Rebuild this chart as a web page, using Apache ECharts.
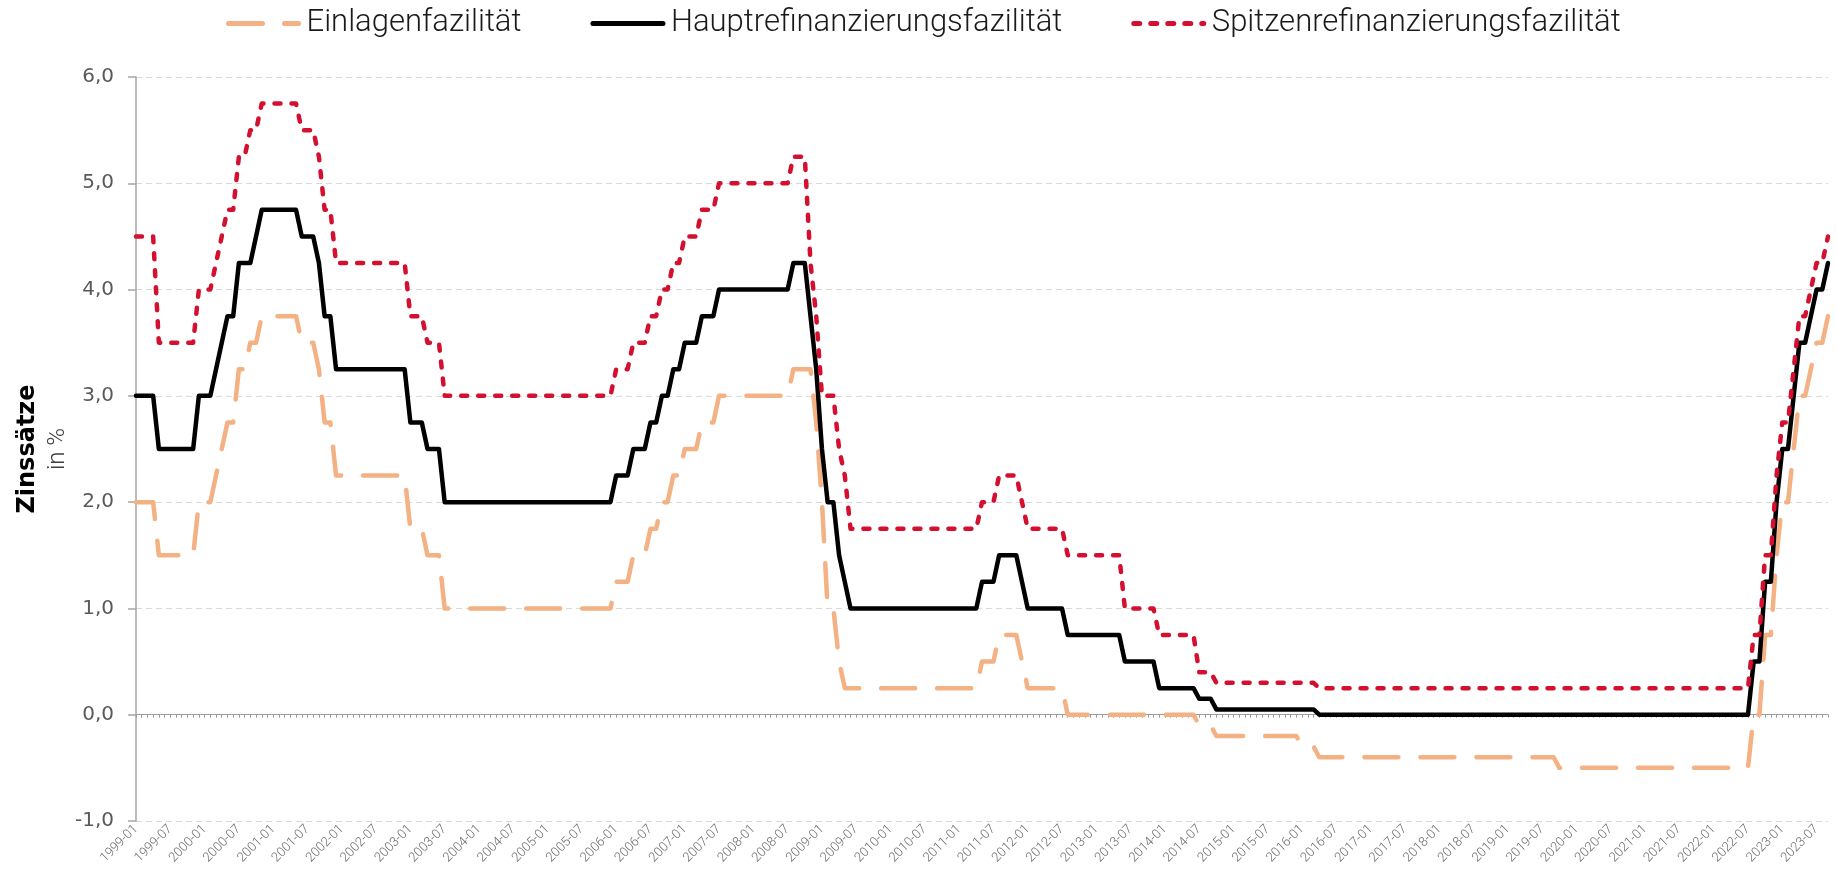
<!DOCTYPE html>
<html>
<head>
<meta charset="utf-8">
<script src="https://cdn.jsdelivr.net/npm/echarts@6/dist/echarts.min.js"></script>
<style>
html,body{margin:0;padding:0;background:#fff;}
#chart{width:1836px;height:869px;}
</style>
</head>
<body>
<div id="chart"></div>
<script>
// Monthly categories 1999-01 .. 2023-09 (value in effect at the start of each month)
const months = [];
for (let y = 1999; y <= 2023; y++) {
  for (let m = 1; m <= 12; m++) {
    if (y === 2023 && m > 9) break;
    months.push(y + '-' + (m < 10 ? '0' + m : m));
  }
}

// Einlagenfazilität (deposit facility), one row per year
const einlagen = [
  2.00,2.00,2.00,2.00,1.50,1.50,1.50,1.50,1.50,1.50,1.50,2.00, // 1999
  2.00,2.00,2.25,2.50,2.75,2.75,3.25,3.25,3.50,3.50,3.75,3.75, // 2000
  3.75,3.75,3.75,3.75,3.75,3.50,3.50,3.50,3.25,2.75,2.75,2.25, // 2001
  2.25,2.25,2.25,2.25,2.25,2.25,2.25,2.25,2.25,2.25,2.25,2.25, // 2002
  1.75,1.75,1.75,1.50,1.50,1.50,1.00,1.00,1.00,1.00,1.00,1.00, // 2003
  1.00,1.00,1.00,1.00,1.00,1.00,1.00,1.00,1.00,1.00,1.00,1.00, // 2004
  1.00,1.00,1.00,1.00,1.00,1.00,1.00,1.00,1.00,1.00,1.00,1.00, // 2005
  1.25,1.25,1.25,1.50,1.50,1.50,1.75,1.75,2.00,2.00,2.25,2.25, // 2006
  2.50,2.50,2.50,2.75,2.75,2.75,3.00,3.00,3.00,3.00,3.00,3.00, // 2007
  3.00,3.00,3.00,3.00,3.00,3.00,3.00,3.25,3.25,3.25,3.25,2.75, // 2008
  2.00,1.00,1.00,0.50,0.25,0.25,0.25,0.25,0.25,0.25,0.25,0.25, // 2009
  0.25,0.25,0.25,0.25,0.25,0.25,0.25,0.25,0.25,0.25,0.25,0.25, // 2010
  0.25,0.25,0.25,0.25,0.50,0.50,0.50,0.75,0.75,0.75,0.75,0.50, // 2011
  0.25,0.25,0.25,0.25,0.25,0.25,0.25,0.00,0.00,0.00,0.00,0.00, // 2012
  0.00,0.00,0.00,0.00,0.00,0.00,0.00,0.00,0.00,0.00,0.00,0.00, // 2013
  0.00,0.00,0.00,0.00,0.00,0.00,-0.10,-0.10,-0.10,-0.20,-0.20,-0.20, // 2014
  -0.20,-0.20,-0.20,-0.20,-0.20,-0.20,-0.20,-0.20,-0.20,-0.20,-0.20,-0.20, // 2015
  -0.30,-0.30,-0.30,-0.40,-0.40,-0.40,-0.40,-0.40,-0.40,-0.40,-0.40,-0.40, // 2016
  -0.40,-0.40,-0.40,-0.40,-0.40,-0.40,-0.40,-0.40,-0.40,-0.40,-0.40,-0.40, // 2017
  -0.40,-0.40,-0.40,-0.40,-0.40,-0.40,-0.40,-0.40,-0.40,-0.40,-0.40,-0.40, // 2018
  -0.40,-0.40,-0.40,-0.40,-0.40,-0.40,-0.40,-0.40,-0.40,-0.50,-0.50,-0.50, // 2019
  -0.50,-0.50,-0.50,-0.50,-0.50,-0.50,-0.50,-0.50,-0.50,-0.50,-0.50,-0.50, // 2020
  -0.50,-0.50,-0.50,-0.50,-0.50,-0.50,-0.50,-0.50,-0.50,-0.50,-0.50,-0.50, // 2021
  -0.50,-0.50,-0.50,-0.50,-0.50,-0.50,-0.50,0.00,0.00,0.75,0.75,1.50, // 2022
  2.00,2.00,2.50,3.00,3.00,3.25,3.50,3.50,3.75 // 2023
];

// Hauptrefinanzierungsfazilität (main refinancing operations)
const haupt = [
  3.00,3.00,3.00,3.00,2.50,2.50,2.50,2.50,2.50,2.50,2.50,3.00, // 1999
  3.00,3.00,3.25,3.50,3.75,3.75,4.25,4.25,4.25,4.50,4.75,4.75, // 2000
  4.75,4.75,4.75,4.75,4.75,4.50,4.50,4.50,4.25,3.75,3.75,3.25, // 2001
  3.25,3.25,3.25,3.25,3.25,3.25,3.25,3.25,3.25,3.25,3.25,3.25, // 2002
  2.75,2.75,2.75,2.50,2.50,2.50,2.00,2.00,2.00,2.00,2.00,2.00, // 2003
  2.00,2.00,2.00,2.00,2.00,2.00,2.00,2.00,2.00,2.00,2.00,2.00, // 2004
  2.00,2.00,2.00,2.00,2.00,2.00,2.00,2.00,2.00,2.00,2.00,2.00, // 2005
  2.25,2.25,2.25,2.50,2.50,2.50,2.75,2.75,3.00,3.00,3.25,3.25, // 2006
  3.50,3.50,3.50,3.75,3.75,3.75,4.00,4.00,4.00,4.00,4.00,4.00, // 2007
  4.00,4.00,4.00,4.00,4.00,4.00,4.00,4.25,4.25,4.25,3.75,3.25, // 2008
  2.50,2.00,2.00,1.50,1.25,1.00,1.00,1.00,1.00,1.00,1.00,1.00, // 2009
  1.00,1.00,1.00,1.00,1.00,1.00,1.00,1.00,1.00,1.00,1.00,1.00, // 2010
  1.00,1.00,1.00,1.00,1.25,1.25,1.25,1.50,1.50,1.50,1.50,1.25, // 2011
  1.00,1.00,1.00,1.00,1.00,1.00,1.00,0.75,0.75,0.75,0.75,0.75, // 2012
  0.75,0.75,0.75,0.75,0.75,0.50,0.50,0.50,0.50,0.50,0.50,0.25, // 2013
  0.25,0.25,0.25,0.25,0.25,0.25,0.15,0.15,0.15,0.05,0.05,0.05, // 2014
  0.05,0.05,0.05,0.05,0.05,0.05,0.05,0.05,0.05,0.05,0.05,0.05, // 2015
  0.05,0.05,0.05,0.00,0.00,0.00,0.00,0.00,0.00,0.00,0.00,0.00, // 2016
  0.00,0.00,0.00,0.00,0.00,0.00,0.00,0.00,0.00,0.00,0.00,0.00, // 2017
  0.00,0.00,0.00,0.00,0.00,0.00,0.00,0.00,0.00,0.00,0.00,0.00, // 2018
  0.00,0.00,0.00,0.00,0.00,0.00,0.00,0.00,0.00,0.00,0.00,0.00, // 2019
  0.00,0.00,0.00,0.00,0.00,0.00,0.00,0.00,0.00,0.00,0.00,0.00, // 2020
  0.00,0.00,0.00,0.00,0.00,0.00,0.00,0.00,0.00,0.00,0.00,0.00, // 2021
  0.00,0.00,0.00,0.00,0.00,0.00,0.00,0.50,0.50,1.25,1.25,2.00, // 2022
  2.50,2.50,3.00,3.50,3.50,3.75,4.00,4.00,4.25 // 2023
];

// Spitzenrefinanzierungsfazilität (marginal lending facility)
const spitzen = [
  4.50,4.50,4.50,4.50,3.50,3.50,3.50,3.50,3.50,3.50,3.50,4.00, // 1999
  4.00,4.00,4.25,4.50,4.75,4.75,5.25,5.25,5.50,5.50,5.75,5.75, // 2000
  5.75,5.75,5.75,5.75,5.75,5.50,5.50,5.50,5.25,4.75,4.75,4.25, // 2001
  4.25,4.25,4.25,4.25,4.25,4.25,4.25,4.25,4.25,4.25,4.25,4.25, // 2002
  3.75,3.75,3.75,3.50,3.50,3.50,3.00,3.00,3.00,3.00,3.00,3.00, // 2003
  3.00,3.00,3.00,3.00,3.00,3.00,3.00,3.00,3.00,3.00,3.00,3.00, // 2004
  3.00,3.00,3.00,3.00,3.00,3.00,3.00,3.00,3.00,3.00,3.00,3.00, // 2005
  3.25,3.25,3.25,3.50,3.50,3.50,3.75,3.75,4.00,4.00,4.25,4.25, // 2006
  4.50,4.50,4.50,4.75,4.75,4.75,5.00,5.00,5.00,5.00,5.00,5.00, // 2007
  5.00,5.00,5.00,5.00,5.00,5.00,5.00,5.25,5.25,5.25,4.25,3.75, // 2008
  3.00,3.00,3.00,2.50,2.25,1.75,1.75,1.75,1.75,1.75,1.75,1.75, // 2009
  1.75,1.75,1.75,1.75,1.75,1.75,1.75,1.75,1.75,1.75,1.75,1.75, // 2010
  1.75,1.75,1.75,1.75,2.00,2.00,2.00,2.25,2.25,2.25,2.25,2.00, // 2011
  1.75,1.75,1.75,1.75,1.75,1.75,1.75,1.50,1.50,1.50,1.50,1.50, // 2012
  1.50,1.50,1.50,1.50,1.50,1.00,1.00,1.00,1.00,1.00,1.00,0.75, // 2013
  0.75,0.75,0.75,0.75,0.75,0.75,0.40,0.40,0.40,0.30,0.30,0.30, // 2014
  0.30,0.30,0.30,0.30,0.30,0.30,0.30,0.30,0.30,0.30,0.30,0.30, // 2015
  0.30,0.30,0.30,0.25,0.25,0.25,0.25,0.25,0.25,0.25,0.25,0.25, // 2016
  0.25,0.25,0.25,0.25,0.25,0.25,0.25,0.25,0.25,0.25,0.25,0.25, // 2017
  0.25,0.25,0.25,0.25,0.25,0.25,0.25,0.25,0.25,0.25,0.25,0.25, // 2018
  0.25,0.25,0.25,0.25,0.25,0.25,0.25,0.25,0.25,0.25,0.25,0.25, // 2019
  0.25,0.25,0.25,0.25,0.25,0.25,0.25,0.25,0.25,0.25,0.25,0.25, // 2020
  0.25,0.25,0.25,0.25,0.25,0.25,0.25,0.25,0.25,0.25,0.25,0.25, // 2021
  0.25,0.25,0.25,0.25,0.25,0.25,0.25,0.75,0.75,1.50,1.50,2.25, // 2022
  2.75,2.75,3.25,3.75,3.75,4.00,4.25,4.25,4.50 // 2023
];

const seriesNames = ['Einlagenfazilität', 'Hauptrefinanzierungsfazilität', 'Spitzenrefinanzierungsfazilität'];
const yTicks = { min: -1, max: 6, interval: 1 };
const yTitle = 'Zinssätze';
const yUnit = 'in %';

const FONT = 'Roboto, "Noto Sans", sans-serif';
const FONT_WIDE = '"DejaVu Sans", Roboto, sans-serif';

const chart = echarts.init(document.getElementById('chart'), null, { renderer: 'canvas' });

chart.setOption({
  animation: false,
  backgroundColor: '#ffffff',
  legend: {
    top: 3,
    left: 221,
    itemWidth: 70,
    itemHeight: 14,
    itemGap: 69,
    itemStyle: { opacity: 0 },
    lineStyle: { width: 5, cap: 'round' },
    textStyle: { fontFamily: FONT, fontWeight: 300, fontSize: 31, color: '#1a1a1a', padding: [0, 0, 0, 3] },
    data: seriesNames
  },
  grid: { left: 136, right: 8, top: 77, bottom: 48 },
  xAxis: [
    {
      type: 'category',
      data: months,
      boundaryGap: false,
      position: 'bottom',
      axisLine: { onZero: true, lineStyle: { color: '#9b9b9b', width: 1 } },
      axisTick: { show: true, interval: 0, length: 3, lineStyle: { color: '#9b9b9b', width: 1 } },
      axisLabel: { show: false },
      splitLine: { show: false }
    },
    {
      type: 'category',
      data: months,
      boundaryGap: false,
      position: 'bottom',
      axisLine: { show: false, onZero: false },
      axisTick: { show: false },
      axisLabel: {
        interval: 5,
        rotate: 45,
        fontSize: 13,
        fontFamily: FONT,
        fontWeight: 300,
        color: '#6a6a6a',
        margin: 6
      },
      splitLine: { show: false }
    }
  ],
  yAxis: {
    type: 'value',
    min: yTicks.min,
    max: yTicks.max,
    interval: yTicks.interval,
    axisLine: { show: true, lineStyle: { color: '#a6a6a6', width: 1.5 } },
    axisTick: { show: true, length: 8, lineStyle: { color: '#a6a6a6', width: 1.5 } },
    axisLabel: {
      fontFamily: FONT_WIDE,
      fontSize: 20,
      color: '#595959',
      margin: 22,
      formatter: v => v.toFixed(1).replace('.', ',')
    },
    splitLine: { show: true, lineStyle: { color: '#d9d9d9', width: 1, type: [6, 4] } }
  },
  graphic: [
    {
      type: 'text',
      x: 28, y: 449,
      rotation: Math.PI / 2,
      style: { text: yTitle, font: 'bold 24px ' + FONT_WIDE, fill: '#000', align: 'center', verticalAlign: 'middle' }
    },
    {
      type: 'text',
      x: 58, y: 449,
      rotation: Math.PI / 2,
      style: { text: yUnit, font: '300 24px ' + FONT, fill: '#404040', align: 'center', verticalAlign: 'middle' }
    }
  ],
  series: [
    {
      name: seriesNames[0],
      type: 'line',
      data: einlagen,
      symbol: 'none',
      lineStyle: { color: '#F4B183', width: 4.5, type: [34, 22], cap: 'round', join: 'round' },
      itemStyle: { color: '#F4B183' },
      z: 2
    },
    {
      name: seriesNames[1],
      type: 'line',
      data: haupt,
      symbol: 'none',
      lineStyle: { color: '#000000', width: 4.5, type: 'solid', cap: 'round', join: 'round' },
      itemStyle: { color: '#000000' },
      z: 3
    },
    {
      name: seriesNames[2],
      type: 'line',
      data: spitzen,
      symbol: 'none',
      lineStyle: { color: '#D3102F', width: 4.5, type: [6, 11], cap: 'round', join: 'round' },
      itemStyle: { color: '#D3102F' },
      z: 4
    }
  ]
});
</script>
</body>
</html>
